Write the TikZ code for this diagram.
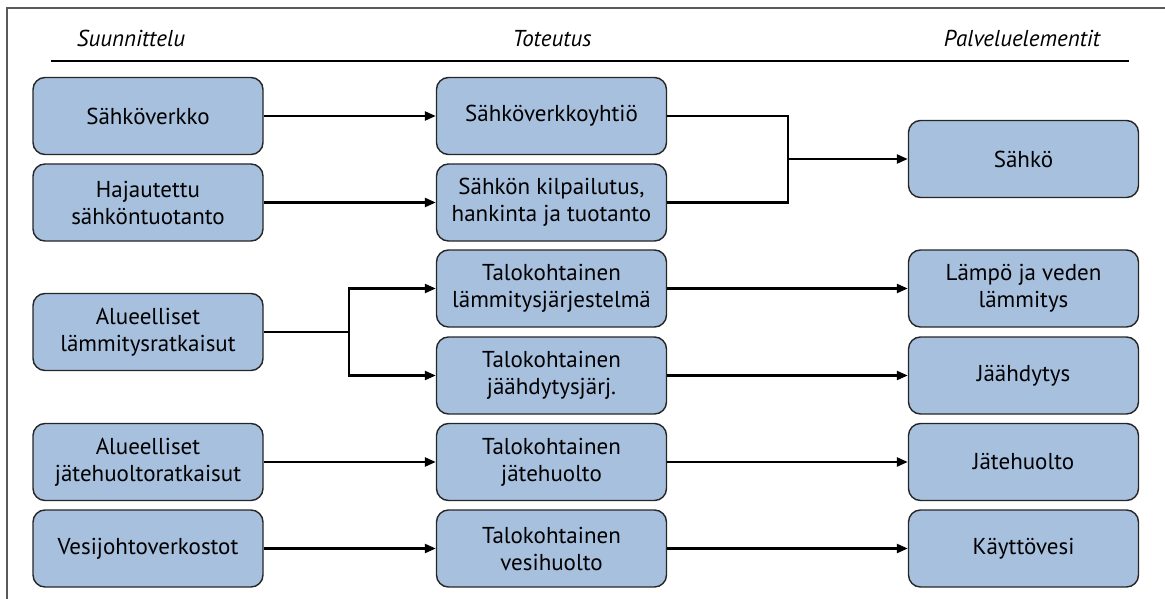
\documentclass[tikz,border=0pt]{standalone}
\usepackage{fontspec}
\setmainfont{PT Sans}
\usetikzlibrary{arrows.meta}
\definecolor{boxfill}{RGB}{167,192,222}
\definecolor{framegray}{RGB}{90,90,90}
\tikzset{
  box/.style={draw=black!85, line width=1.4pt, fill=boxfill, rounded corners=12pt,
    minimum width=230pt, minimum height=77pt, align=center, inner sep=2pt,
    font=\fontsize{23}{27}\selectfont},
  head/.style={font=\fontsize{23}{26}\selectfont\itshape, anchor=base},
  conn/.style={line width=2.4pt, draw=black},
  arr/.style={conn, -{Triangle[length=11pt,width=9pt]}},
}
\begin{document}
\begin{tikzpicture}[x=1pt,y=-1pt]
\useasboundingbox (0,0) rectangle (1165,599);
% frame
\draw[framegray, line width=2pt] (7,599) -- (7,8) -- (1165,8);
% headers
\node[head] (h1) at (131,47) {Suunnittelu};
\node[head] (h2) at (552,47) {Toteutus};
\node[head] (h3) at (1022,47) {Palveluelementit};
\draw[line width=1.3pt] (51,61) -- (1129,61);
% column 1
\node[box] (a1) at (148,116) {Sähköverkko};
\node[box] (a2) at (148,202.5) {Hajautettu\\sähköntuotanto};
\node[box] (a3) at (148,332) {Alueelliset\\lämmitysratkaisut};
\node[box] (a4) at (148,462) {Alueelliset\\jätehuoltoratkaisut};
\node[box] (a5) at (148,548.5) {Vesijohtoverkostot};
% column 2
\node[box] (b1) at (551.5,116) {Sähköverkkoyhtiö};
\node[box] (b2) at (551.5,202.5) {Sähkön kilpailutus,\\hankinta ja tuotanto};
\node[box] (b3) at (551.5,288.5) {Talokohtainen\\lämmitysjärjestelmä};
\node[box] (b4) at (551.5,375.5) {Talokohtainen\\jäähdytysjärj.};
\node[box] (b5) at (551.5,462) {Talokohtainen\\jätehuolto};
\node[box] (b6) at (551.5,548.5) {Talokohtainen\\vesihuolto};
% column 3
\node[box] (c1) at (1023.5,159) {Sähkö};
\node[box] (c2) at (1023.5,288.5) {Lämpö ja veden\\lämmitys};
\node[box] (c3) at (1023.5,375.5) {Jäähdytys};
\node[box] (c4) at (1023.5,462) {Jätehuolto};
\node[box] (c5) at (1023.5,548.5) {Käyttövesi};
% connectors
\coordinate (j1) at (788,159);
\coordinate (j2) at (349,332);
\draw[arr] (a1) -- (b1);
\draw[arr] (a2) -- (b2);
\draw[conn] (b1.east) -| (j1);
\draw[conn] (b2.east) -| (j1);
\draw[arr] (j1) -- (c1);
\draw[conn] (a3.east) -- (j2);
\draw[arr] (j2) |- (b3.west);
\draw[arr] (j2) |- (b4.west);
\draw[arr] (b3) -- (c2);
\draw[arr] (b4) -- (c3);
\draw[arr] (a4) -- (b5);
\draw[arr] (b5) -- (c4);
\draw[arr] (a5) -- (b6);
\draw[arr] (b6) -- (c5);
\end{tikzpicture}
\end{document}
